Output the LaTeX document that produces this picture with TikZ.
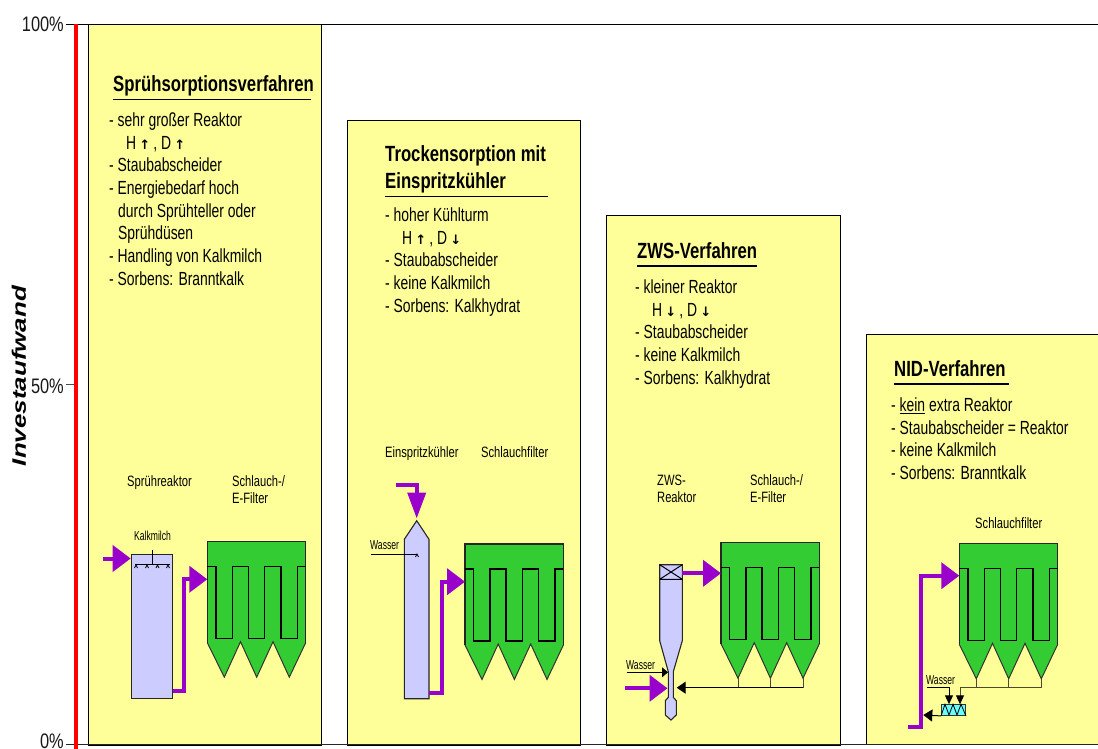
\documentclass[tikz,border=0pt]{standalone}
\usepackage{fontspec}
\usetikzlibrary{arrows.meta}
\setmainfont{Liberation Sans}
\newfontfamily\nartitle[FakeStretch=0.76]{Liberation Sans}
\newfontfamily\narbody[FakeStretch=0.732]{Liberation Sans}
\newfontfamily\narsmall[FakeStretch=0.745]{Liberation Sans}
\newfontfamily\nartiny[FakeStretch=0.66]{Liberation Sans}
\newfontfamily\naraxis[FakeStretch=0.78]{Liberation Sans}
\newfontfamily\wideital[FakeStretch=1.33]{Liberation Sans}
\newfontfamily\arw{DejaVu Sans}
\newcommand{\UP}{{\arw\fontsize{13}{13}\selectfont\bfseries ↑}}
\newcommand{\DN}{{\arw\fontsize{13}{13}\selectfont\bfseries ↓}}
\definecolor{panelY}{HTML}{FFFF99}
\definecolor{reactB}{HTML}{CCCCFF}
\definecolor{filtG}{HTML}{33CC33}
\definecolor{flowP}{HTML}{9900CC}
\definecolor{mixC}{HTML}{66FFFF}
\tikzset{
  panel/.style={draw=black,line width=0.9pt,fill=panelY},
  reactor/.style={draw=black!85,line width=1.1pt,fill=reactB},
  title/.style={anchor=base west,inner sep=0pt,align=left,font=\nartitle\fontsize{22}{28}\selectfont\bfseries},
  body/.style={anchor=north west,inner sep=0pt,align=left,font=\narbody\fontsize{19}{22.7}\selectfont},
  small/.style={anchor=base west,inner sep=0pt,align=left,font=\narsmall\fontsize{15}{17}\selectfont},
  tiny/.style={anchor=base west,inner sep=0pt,font=\nartiny\fontsize{13}{13}\selectfont},
  axis/.style={anchor=base east,inner sep=0pt,font=\naraxis\fontsize{21}{24}\selectfont,text=black!90},
  hflow/.style={draw=flowP,line width=4pt,-{Triangle[length=18pt,width=26pt,fill=flowP]}},
  vflow/.style={draw=flowP,line width=4pt,-{Triangle[length=26pt,width=18pt,fill=flowP]}},
  thin line/.style={draw=black,line width=0.9pt},
  tipline/.style={draw=black,line width=0.9pt,-{Triangle[length=6pt,width=10pt,fill=black]}},
  bigtip/.style={draw=black,line width=1pt,-{Triangle[length=9pt,width=12pt,fill=black]}},
  drop/.style={draw=black!60!olive,line width=0.9pt},
  underl/.style={draw=black,line width=1.6pt},
  bagfilter/.pic={
    \fill[filtG] (0,0) -- (98.4,0) -- (98.4,101) -- (82,135.5) -- (65.7,100) -- (49.4,135.5) -- (33.2,100) -- (17,135.5) -- (0,101) -- cycle;
    \draw[black!80,line width=1pt,line join=miter] (0,101) -- (17,135.5) -- (33.2,100) -- (49.4,135.5) -- (65.7,100) -- (82,135.5) -- (98.4,101);
    \draw[black!85,line width=1.1pt] (0,101) -- (0,0) -- (98.4,0) -- (98.4,101);
    \draw[black,line width=1.5pt] (0,25) -- (8.7,25) -- (8.7,97) -- (25,97) -- (25,25) -- (41,25) -- (41,97) -- (57.4,97) -- (57.4,25) -- (73.7,25) -- (73.7,97) -- (90,97) -- (90,25) -- (98.4,25);
    \coordinate (-t1) at (17,135.5);
    \coordinate (-t2) at (49.4,135.5);
    \coordinate (-t3) at (82,135.5);
  }
}
\begin{document}
\begin{tikzpicture}[x=1pt,y=-1pt]
\useasboundingbox (0,0) rectangle (1098,749);
% panels
\fill[white] (0,0) rectangle (1098,749);
\draw[panel] (88.5,24) rectangle (321.5,745);
\draw[panel] (347,120.5) rectangle (580,745);
\draw[panel] (606.5,215.5) rectangle (840,745);
\draw[panel] (866,334.5) -- (1098,334.5) (866,745) -- (866,334.5);
\fill[panelY] (866.5,335) rectangle (1098,744);
% axis
\draw[black,line width=0.9pt] (66,24) -- (1098,24);
\draw[black!85,line width=1.2pt] (66,744.5) -- (1098,744.5);
\draw[black!70,line width=0.9pt] (66,384) -- (74,384);
\fill[red] (73.7,24) rectangle (77.9,749);
\node[axis] (p100) at (64,32) {100\%};
\node[axis] (p50) at (64,393) {50\%};
\node[axis] (p0) at (64,748) {0\%};
\node[rotate=90,inner sep=0pt,font=\wideital\fontsize{19.5}{20}\selectfont\bfseries\itshape] (yl) at (19,376) {Investaufwand};
% panel 1
\node[title] (t1) at (113,92) {Sprühsorptionsverfahren};
\draw[underl] (113,99.5) -- (311,99.5);
\node[body] (b1) at (109,112.5) {- sehr großer Reaktor\\
\hspace*{17pt}H\,\UP\,, D\,\UP\\
- Staubabscheider\\
- Energiebedarf hoch\\
\hspace*{9pt}durch Sprühteller oder\\
\hspace*{9pt}Sprühdüsen\\
- Handling von Kalkmilch\\
- Sorbens: Branntkalk};
\node[small] (l11) at (127,486.5) {Sprühreaktor};
\node[small] (l12) at (232,503.5) {Schlauch-/\\E-Filter};
\node[tiny] (l13) at (134,540) {Kalkmilch};
\node[reactor,draw,minimum width=41.6pt,minimum height=143.4pt,inner sep=0pt,anchor=north west] (r1) at (130.7,554.3) {};
\draw[thin line] (152.5,550) -- (152.5,564) (135,564) -- (170,564);
\foreach \xx in {136,147,157.5,168}{\draw[black,line width=0.7pt] (\xx-1.5,568) -- (\xx,565) -- (\xx+1.5,568);}
\pic (f1) at (207.3,541.7) {bagfilter};
\coordinate (i1) at (103,558.5);
\coordinate (o1) at (r1.south east |- 0,690.7);
\coordinate (o1b) at (184.3,690.7);
\coordinate (o1c) at (184.3,579.3);
\coordinate (f1in) at (207.3,579.3);
\draw[hflow] (i1) -- (r1.west |- i1);
\draw[hflow] (o1) -- (o1b) -- (o1c) -- (f1in);
% panel 2
\node[title] (t2) at (385,189) {Trockensorption mit\\Einspritzkühler};
\draw[underl] (385,196.5) -- (548,196.5);
\node[body] (b2) at (385,207.5) {- hoher Kühlturm\\
\hspace*{17pt}H\,\UP\,, D\,\DN\\
- Staubabscheider\\
- keine Kalkmilch\\
- Sorbens: Kalkhydrat};
\node[small] (l21) at (385,457.5) {Einspritzkühler};
\node[small] (l22) at (481,457.5) {Schlauchfilter};
\node[tiny] (l23) at (370,549.5) {Wasser};
\draw[reactor] (404.3,698.7) -- (404.3,539.3) -- (416.7,520.7) -- (429,539.3) -- (429,698.7) -- cycle;
\coordinate (r2top) at (416.7,518.5);
\coordinate (i2) at (395.5,485);
\coordinate (i2b) at (416.7,485);
\draw[vflow] (i2) -- (i2b) -- (r2top);
\coordinate (w2) at (370.7,554);
\coordinate (w2e) at (417,554);
\draw[thin line] (w2) -- (w2e);
\draw[black,line width=0.7pt] (415.5,557) -- (417,554) -- (418.5,557);
\pic (f2) at (465,544) {bagfilter};
\coordinate (o2) at (429,692.7);
\coordinate (o2b) at (441.7,692.7);
\coordinate (o2c) at (441.7,581.7);
\coordinate (f2in) at (465,581.7);
\draw[hflow] (o2) -- (o2b) -- (o2c) -- (f2in);
% panel 3
\node[title] (t3) at (637,258) {ZWS-Verfahren};
\draw[underl] (637,266) -- (757,266);
\node[body] (b3) at (635,279.5) {- kleiner Reaktor\\
\hspace*{17pt}H\,\DN\,, D\,\DN\\
- Staubabscheider\\
- keine Kalkmilch\\
- Sorbens: Kalkhydrat};
\node[small] (l31) at (657,502) {ZWS-\\Reaktor};
\node[small] (l32) at (750,502) {Schlauch-/\\E-Filter};
\node[tiny] (l33) at (626,669) {Wasser};
\draw[reactor] (659.7,564.7) -- (682.3,564.7) -- (682.3,640.7) -- (673.3,671.7) -- (673.3,697.3) -- (676.3,700.7) -- (676.3,715) -- (671,720) -- (665.3,715) -- (665.3,700.7) -- (668.3,697.3) -- (668.3,671.7) -- (659.7,640.7) -- cycle;
\draw[black,line width=1pt] (659.7,579.3) -- (682.3,579.3) (659.7,564.7) -- (682.3,579.3) (682.3,564.7) -- (659.7,579.3);
\pic (f3) at (721,542.7) {bagfilter};
\coordinate (o3) at (682.3,573.3);
\coordinate (f3in) at (721,573.3);
\draw[hflow] (o3) -- (f3in);
\coordinate (i3) at (625,688.3);
\coordinate (i3e) at (667.5,688.3);
\draw[hflow] (i3) -- (i3e);
\coordinate (w3) at (626.7,672.3);
\coordinate (w3e) at (668,672.3);
\draw[tipline] (w3) -- (w3e);
\coordinate (rc3) at (676.7,687.7);
\coordinate (rc3e) at (f3-t3 |- rc3);
\draw[drop] (f3-t1) -- (f3-t1 |- rc3) (f3-t2) -- (f3-t2 |- rc3) (f3-t3) -- (rc3e);
\draw[bigtip,line width=1.1pt] (rc3e) -- (rc3);
% panel 4
\node[title] (t4) at (894,376) {NID-Verfahren};
\draw[underl] (894,384) -- (1009,384);
\node[body] (b4) at (891,397.5) {- \underline{kein} extra Reaktor\\
- Staubabscheider = Reaktor\\
- keine Kalkmilch\\
- Sorbens: Branntkalk};
\node[small] (l41) at (975,528.5) {Schlauchfilter};
\node[tiny] (l42) at (926,684) {Wasser};
\pic (f4) at (959.3,543.3) {bagfilter};
\coordinate (i4) at (908.3,726.7);
\coordinate (i4b) at (921,726.7);
\coordinate (i4c) at (921,575.7);
\coordinate (f4in) at (959.3,575.7);
\draw[hflow] (i4) -- (i4b) -- (i4c) -- (f4in);
\node[draw=black!80,line width=0.9pt,fill=mixC,minimum width=24pt,minimum height=10.7pt,inner sep=0pt,anchor=north west] (m4) at (941,704.3) {};
\draw[black,line width=0.8pt] (m4.south west) -- (945,704.3) -- (949,715) -- (953,704.3) -- (957,715) -- (961,704.3) -- (m4.south east);
\coordinate (w4) at (927.3,687.7);
\coordinate (w4b) at (949,687.7);
\coordinate (w4e) at (949,704.3);
\draw[tipline,-{Triangle[length=9pt,width=8pt,fill=black]}] (w4) -- (w4b) -- (w4e);
\coordinate (rc4) at (f4-t3 |- w4);
\coordinate (rc4b) at (960,687.7);
\coordinate (rc4e) at (960,704.3);
\draw[drop] (f4-t1) -- (f4-t1 |- rc4) (f4-t2) -- (f4-t2 |- rc4) (f4-t3) -- (rc4);
\draw[drop,-{Triangle[length=9pt,width=8pt,fill=black,black]}] (rc4) -- (rc4b) -- (rc4e);
\coordinate (o4) at (923.3,715);
\draw[bigtip] (m4.south west) -- (o4);
\end{tikzpicture}
\end{document}
